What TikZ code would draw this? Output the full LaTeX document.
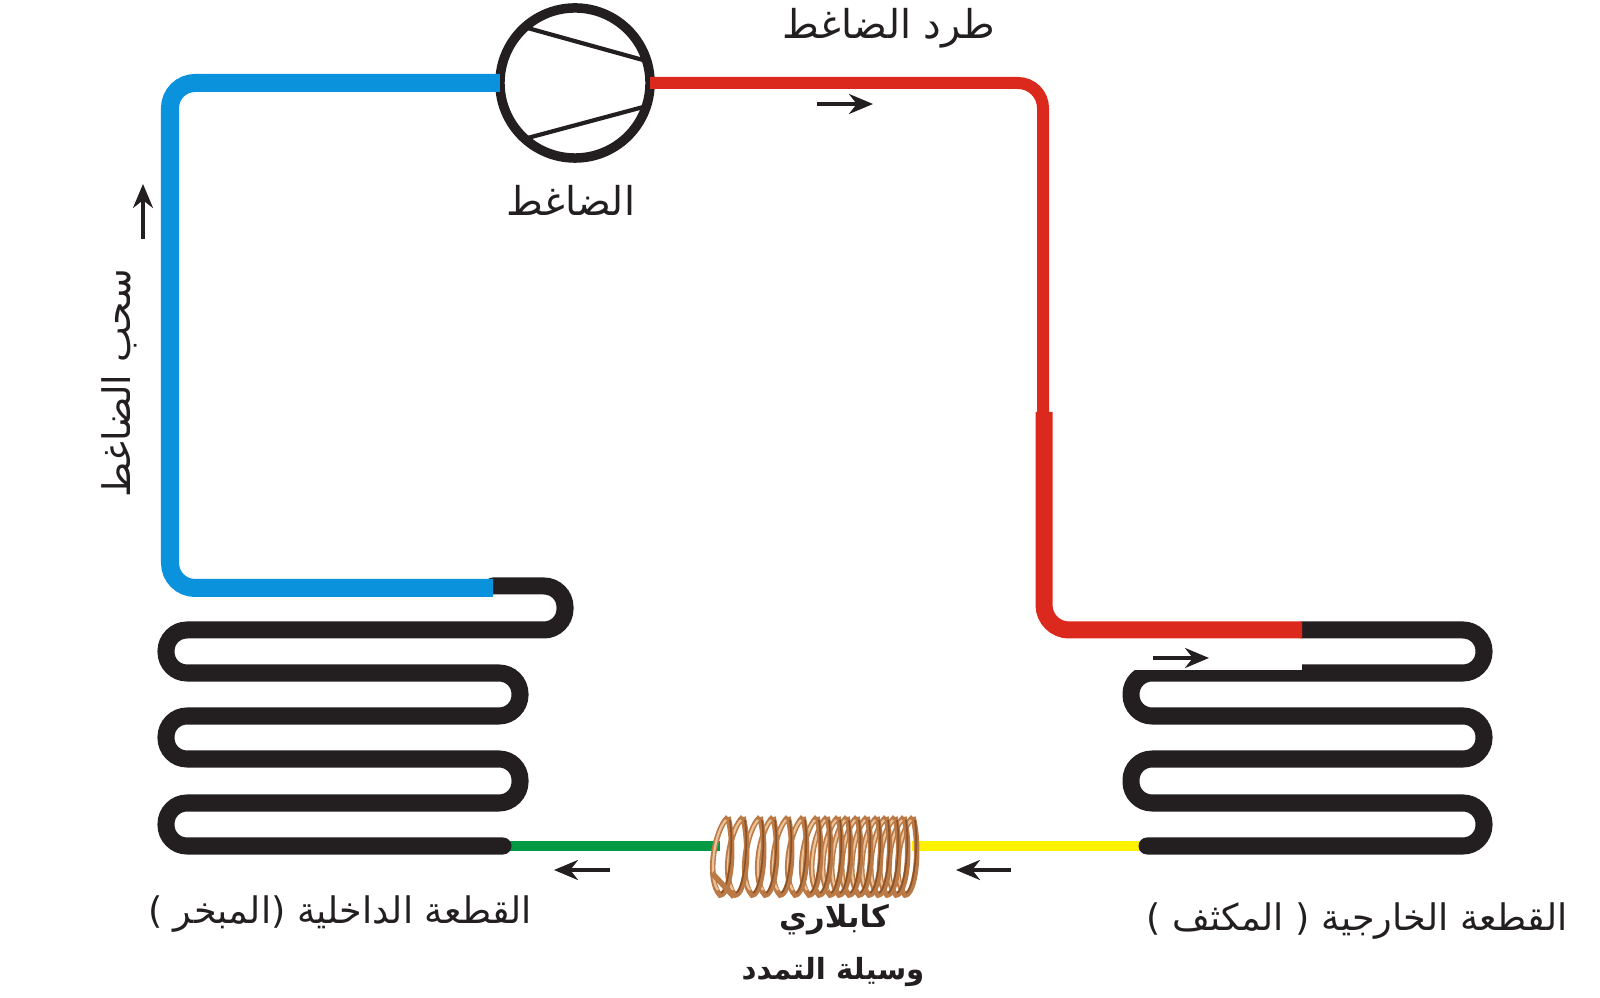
\documentclass[tikz,border=0pt]{standalone}
\usepackage{fontspec}
\usetikzlibrary{arrows.meta}
\TeXXeTstate=1
\newfontfamily\arabicfont[Script=Arabic]{DejaVu Sans}
\tikzset{
  pipeline/.style={line width=0.17cm, rounded corners=0.25cm},
  sucline/.style={pipeline, color=sucblue, line width=0.18cm},
  disline/.style={pipeline, color=disred},
  coilline/.style={line width=0.17cm, rounded corners=0.21cm, line cap=round, color=coilblack},
  liqline/.style={line width=0.095cm},
  flowtip/.style={line width=0.034cm, color=coilblack, -{Stealth[length=0.24cm,width=0.2cm]}},
  wirelo/.style={line width=0.055cm, color=copperdk},
  wirehi/.style={line width=0.022cm, color=copperlt},
  wiredk/.style={line width=0.016cm, color=coppermd},
  arlabel/.style={inner sep=0pt, text=coilblack, font=\arabicfont\fontsize{#1}{#1}\selectfont},
  arlabelb/.style={inner sep=0pt, text=coilblack, font=\arabicfont\bfseries\fontsize{#1}{#1}\selectfont}
}
\definecolor{sucblue}{HTML}{0A93DC}
\definecolor{disred}{HTML}{DC291E}
\definecolor{coilblack}{HTML}{231F20}
\definecolor{liqgreen}{HTML}{009A44}
\definecolor{liqyellow}{HTML}{FFF200}
\definecolor{copperdk}{HTML}{BB7A45}
\definecolor{coppermd}{HTML}{8A5228}
\definecolor{copperlt}{HTML}{EBC39B}
\def\flowarrow(#1,#2,#3,#4){
  \coordinate (fl_a) at (#1,#2);
  \coordinate (fl_b) at (#3,#4);
  \draw[flowtip] (fl_a) -- (fl_b);
}
\def\copperturn(#1){
  \draw[wirelo] (#1,817) .. controls (#1-14,830) and (#1-22,880) .. (#1-8,895) .. controls (#1+2,895) and (#1+8,850) .. (#1,817);
  \draw[wiredk] (#1+2,820) .. controls (#1+6,850) and (#1,890) .. (#1-7,893);
  \draw[wirehi] (#1-2,820) .. controls (#1-14,832) and (#1-20,878) .. (#1-10,890);
}
\begin{document}
\begin{tikzpicture}[x=0.01cm, y=-0.01cm]
\useasboundingbox (0,0) rectangle (1600,998);
\coordinate (evap_in) at (493,588);
\coordinate (evap_top) at (493,586);
\coordinate (evap_out) at (503,846);
\coordinate (cond_in) at (1302,630);
\coordinate (cond_out) at (1147,846);
\coordinate (cap_in) at (720,846);
\coordinate (cap_out) at (912,846);
\node[draw=coilblack, line width=0.095cm, shape=circle, minimum size=1.5cm, inner sep=0pt, outer sep=0pt] (comp_dn) at (575,83) {};
\draw[coilblack, line width=0.042cm] (comp_dn.132) -- (comp_dn.17);
\draw[coilblack, line width=0.042cm] (comp_dn.228) -- (comp_dn.342);
\draw[liqline, color=liqgreen] (evap_out) -- (cap_in);
\draw[liqline, color=liqyellow] (cap_out) -- (cond_out);
\draw[coilline] (evap_top) -- (565,586) -- (565,630) -- (166,630) -- (166,673) -- (520,673) -- (520,716) -- (166,716) -- (166,759) -- (520,759) -- (520,803) -- (166,803) -- (166,846) -- (evap_out);
\draw[coilline] (cond_in) -- (1484,630) -- (1484,673) -- (1131,673) -- (1131,716) -- (1484,716) -- (1484,759) -- (1131,759) -- (1131,803) -- (1484,803) -- (1484,846) -- (cond_out);
\fill[white] (1135,663) rectangle (1302,670);
\draw[sucline] (comp_dn.west) -- (170,83) -- (170,588) -- (evap_in);
\draw[disline, line width=0.12cm] (comp_dn.east) -- (1043,83) -- (1043,420);
\draw[disline] (1044,412) -- (1044,630) -- (cond_in);
\foreach \xturn in {913,904,895,886,877,867,857,847,838,827,817,803,788,773,760,743,728}{
  \copperturn(\xturn)
}
\draw[wirelo] (712,873) -- (734,897);
\node[minimum width=2cm, minimum height=0.8cm, inner sep=0pt] (cap_dn) at (815,856) {};
\flowarrow(817,104,873,104)
\flowarrow(143,239,143,184)
\flowarrow(1153,658,1209,658)
\flowarrow(610,870,554,870)
\flowarrow(1011,870,956,870)
\node[arlabel=11.3] (dis_lb) at (889,28) {\beginR طرد الضاغط\endR};
\node[arlabel=11.3] (comp_lb) at (571,200) {\beginR الضاغط\endR};
\node[arlabel=10.8, rotate=90] (suc_lb) at (119,383) {\beginR سحب الضاغط\endR};
\node[arlabel=10.4] (evap_lb) at (340,914) {\beginR القطعة الداخلية (المبخر )\endR};
\node[arlabel=10.4] (cond_lb) at (1357,921) {\beginR القطعة الخارجية ( المكثف )\endR};
\node[arlabelb=8.7] (cap_lb) at (834,920) {\beginR كابلاري\endR};
\node[arlabelb=8.3] (exp_lb) at (833,972) {\beginR وسيلة التمدد\endR};
\end{tikzpicture}
\end{document}
